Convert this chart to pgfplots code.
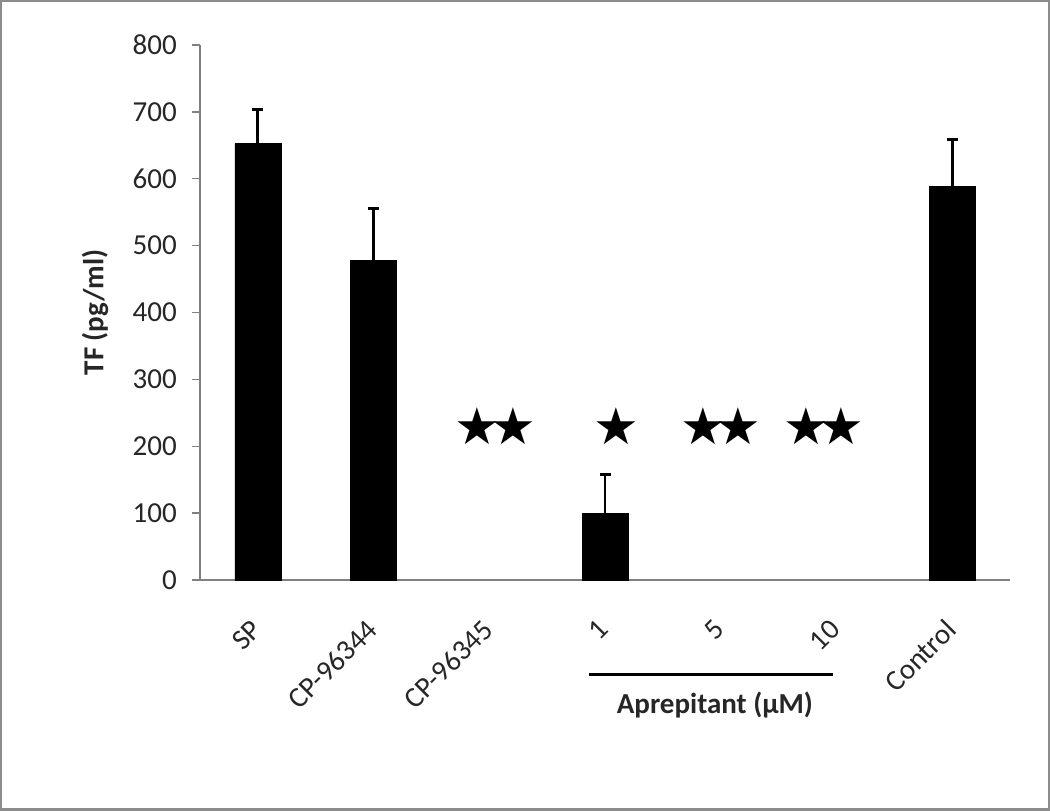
\documentclass[border=0pt]{standalone}
\usepackage{pgfplots}
\pgfplotsset{compat=1.18}
\usepackage{fontspec}
\setmainfont{Carlito}
\newfontfamily\symfont{DejaVu Sans}

\begin{document}
\begin{tikzpicture}
% outer frame (1 px = 0.2 mm)
\draw[black!45,line width=0.5mm] (0.25mm,0.25mm) rectangle (209.75mm,161.95mm);
\begin{axis}[
  at={(40mm,46.2mm)}, anchor=south west,
  scale only axis, width=162mm, height=107mm,
  xmin=-0.5, xmax=6.5, ymin=0, ymax=800,
  ytick={0,100,...,800},
  xtick={0,...,6},
  xticklabels={SP,CP-96344,CP-96345,1,5,10,Control},
  axis lines=left,
  axis line style={-,black!50,line width=1.1pt},
  xtick style={draw=none},
  ytick style={black!50,line width=0.8pt},
  tick align=outside, major tick length=1.6mm,
  /pgf/number format/assume math mode=true,
  tick label style={font=\fontsize{16.5}{19}\selectfont,text=black!85},
  xticklabel style={yshift=-6.5mm,xshift=0.6mm,rotate=45,anchor=east},
  yticklabel style={xshift=-1.8mm},
  ylabel={TF (pg/ml)},
  ylabel style={at={(axis description cs:-0.1296,0.5)},anchor=center,
    font=\bfseries\fontsize{16.5}{19}\selectfont,text=black!85},
  clip=false,
]
\addplot[ybar,bar width=9.2mm,fill=black,draw=black,
  error bars/.cd,y dir=plus,y explicit,
  error bar style={line width=1.7pt,black},
  error mark options={rotate=90,mark size=1.1mm,line width=1.7pt,black}]
  coordinates {(0,653) +- (0,50) (1,478) +- (0,77) (3,100) +- (0,58) (6,588) +- (0,70)};

\node[font=\symfont\fontsize{29}{29}\selectfont] at (axis cs:2.05,230) {★\kern-0.2em★};
\node[font=\symfont\fontsize{29}{29}\selectfont] at (axis cs:3.10,230) {★};
\node[font=\symfont\fontsize{29}{29}\selectfont] at (axis cs:4.00,230) {★\kern-0.2em★};
\node[font=\symfont\fontsize{29}{29}\selectfont] at (axis cs:4.89,230) {★\kern-0.2em★};

\draw[black,line width=0.6mm] (axis cs:2.86,-142) -- (axis cs:4.97,-142);
\node[font=\bfseries\fontsize{16.5}{19}\selectfont,text=black!85] at (axis cs:3.95,-187) {Aprepitant (μM)};
\end{axis}
\end{tikzpicture}
\end{document}
